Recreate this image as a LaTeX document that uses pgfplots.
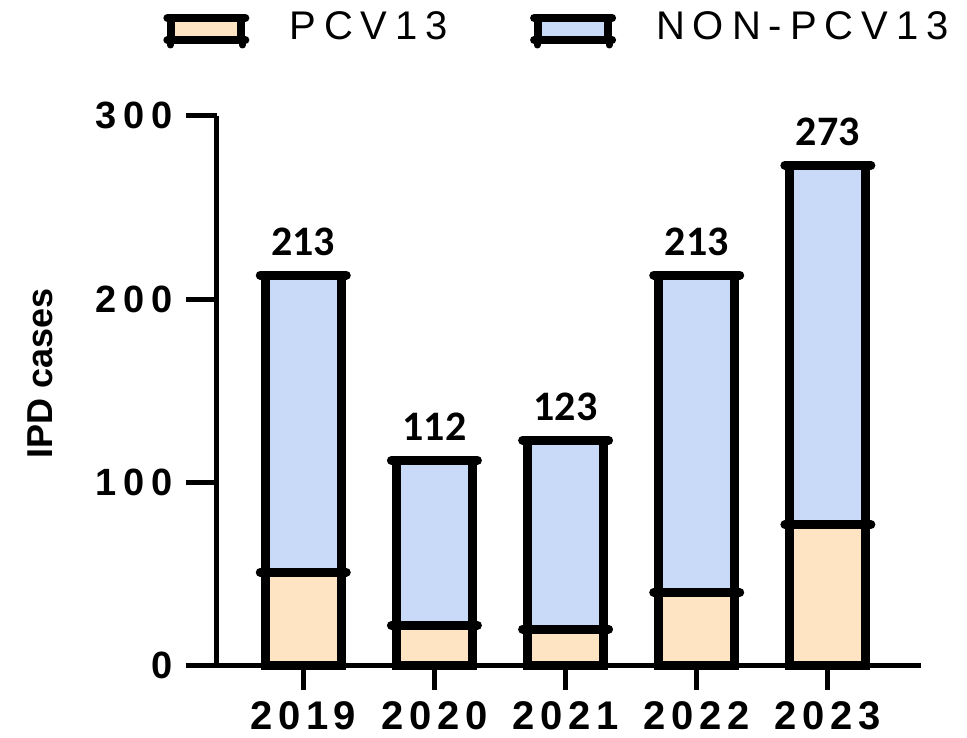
\documentclass[border=0pt]{standalone}
\usepackage{pgfplots}
\usepackage{pgfplotstable}
\pgfplotsset{compat=1.18}
\usepackage{fontspec}
\setmainfont{Liberation Sans}
\newfontfamily\ytf{Liberation Sans}[LetterSpace=18]
\newfontfamily\xtf{Liberation Sans}[LetterSpace=14]
\newfontfamily\lgf{Liberation Sans}[LetterSpace=20]
\newfontfamily\valf{Carlito}
\definecolor{pcv}{RGB}{255,228,196}
\definecolor{non}{RGB}{201,218,248}
\pgfplotstableread{
x pcv total
0 51 213
1 22 112
2 20 123
3 40 213
4 77 273
}\datatab
\pgfplotsset{mylegend/.style={legend image code/.code={%
  \draw[##1, line width=8pt] (0pt,-14pt) rectangle (70pt,8pt);
  \draw[black, line width=8pt, line cap=round] (-4pt,8pt) -- (74pt,8pt);
  \draw[black, line width=8pt, line cap=round] (-4pt,-14pt) -- (74pt,-14pt);
  \draw[black, line width=7pt, line cap=round] (-1pt,-14pt) -- (-1pt,-19pt);
  \draw[black, line width=7pt, line cap=round] (71pt,-14pt) -- (71pt,-19pt);
}}}
\begin{document}
\begin{tikzpicture}
\useasboundingbox (-216.7pt,-72.3pt) rectangle (750.3pt,665.7pt);
\begin{axis}[
  scale only axis, width=704.3pt, height=550pt,
  xmin=-0.66, xmax=4.71, ymin=0, ymax=300,
  enlargelimits=false,
  axis x line*=bottom, axis y line*=left,
  axis line style={line width=5pt, black},
  xtick={0,1,2,3,4}, xticklabels={2019,2020,2021,2022,2023},
  ytick={0,100,200,300},
  tick align=outside, major tick length=31pt,
  tick style={line width=5pt, black},
  xtick style={/pgfplots/major tick length=24pt},
  /pgf/number format/assume math mode=true,
  yticklabel style={font=\fontsize{38}{40}\ytf\bfseries, anchor=east, inner sep=0pt, xshift=-13pt},
  xticklabel style={font=\fontsize{40}{42}\xtf\bfseries, anchor=north, inner sep=0pt, yshift=-5pt},
  ylabel={IPD cases},
  ylabel style={at={(axis description cs:-0.251,0.532)}, anchor=center, font=\fontsize{36}{38}\selectfont\bfseries},
  clip=false,
  legend columns=2,
  legend style={at={(axis description cs:-0.076,1.156)}, anchor=west, draw=none, fill=none, inner sep=0pt,
    font=\fontsize{40}{42}\lgf,
    nodes={inner sep=0pt},
    /tikz/every odd column/.append style={column sep=40pt},
    /tikz/every even column/.append style={column sep=82pt}},
]
\addlegendimage{fill=pcv, draw=black, mylegend}
\addlegendentry{PCV13}
\addlegendimage{fill=non, draw=black, mylegend}
\addlegendentry{NON-PCV13}
% total bars (NON-PCV13 part visible above PCV13 part)
\addplot[ybar, bar width=76pt, bar shift=0pt, fill=non, draw=black, line width=9pt, forget plot,
  nodes near coords, point meta=explicit,
  every node near coord/.append style={font=\fontsize{42}{44}\valf\bfseries, anchor=south, inner sep=0pt, yshift=15pt}]
  table[x=x, y=total, meta=total] {\datatab};
% PCV13 bars
\addplot[ybar, bar width=76pt, bar shift=0pt, fill=pcv, draw=black, line width=9pt, forget plot]
  table[x=x, y=pcv] {\datatab};
% protruding caps at the top of each segment
\addplot[only marks, mark=-, mark size=43pt, mark options={black, line width=9pt, line cap=round}, forget plot]
  table[x=x, y=pcv] {\datatab};
\addplot[only marks, mark=-, mark size=43pt, mark options={black, line width=9pt, line cap=round}, forget plot]
  table[x=x, y=total] {\datatab};
\end{axis}
\end{tikzpicture}
\end{document}
